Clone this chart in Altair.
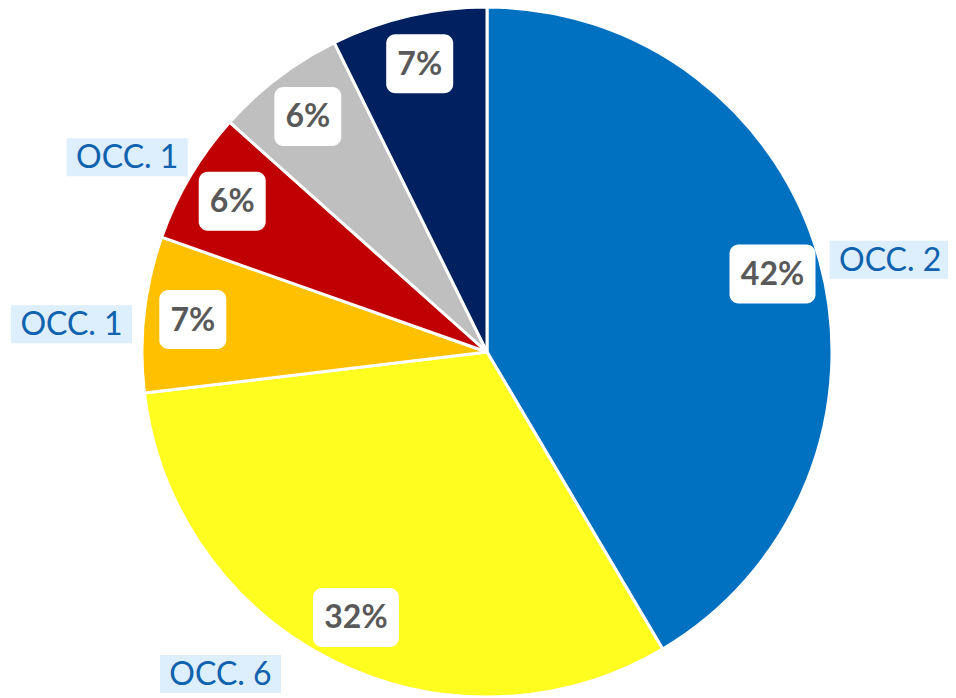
import altair as alt
import pandas as pd

categories = ["OCC. 2", "OCC. 6", "OCC. 1", "OCC. 1", "", ""]
values = [41.5, 31.6, 7.3, 6.2, 6.1, 7.3]
pct_labels = ["42%", "32%", "7%", "6%", "6%", "7%"]
colors = ["#0070C0", "#FFFC1F", "#FFC000", "#C00000", "#BFBFBF", "#002060"]

df = pd.DataFrame({
    "idx": list(range(len(values))),
    "cat": categories,
    "value": values,
    "pct": pct_labels,
    "color": colors,
})

W, H = 940, 690
R = 345
xs = alt.Scale(domain=[-479, 461])
ys = alt.Scale(domain=[-346, 344])

base = alt.Chart(df).transform_window(
    cum="sum(value)", sort=[alt.SortField("idx")], frame=[None, 0]
).transform_joinaggregate(
    total="sum(value)"
).transform_calculate(
    ang="(datum.cum - datum.value/2) / datum.total * 2 * PI"
)

pie = alt.Chart(df).mark_arc(outerRadius=R, stroke="white", strokeWidth=3).encode(
    theta=alt.Theta("value:Q", stack=True),
    order=alt.Order("idx:Q"),
    color=alt.Color("color:N", scale=None),
    x=alt.datum(0, type="quantitative", scale=xs, axis=None),
    y=alt.datum(0, type="quantitative", scale=ys, axis=None),
)

lab = base.transform_calculate(
    lx="sin(datum.ang) * 296",
    ly="cos(datum.ang) * 296",
    w="22 + 19 * (length(datum.pct) - 1) + 26",
).transform_calculate(
    x1="datum.lx - datum.w/2",
    x2="datum.lx + datum.w/2",
    y1="datum.ly - 29.5",
    y2="datum.ly + 29.5",
)

boxes = lab.mark_rect(color="white", cornerRadius=9).encode(
    x=alt.X("x1:Q", scale=xs, axis=None),
    x2="x2:Q",
    y=alt.Y("y1:Q", scale=ys, axis=None),
    y2="y2:Q",
)

pcts = lab.mark_text(font="Lato", fontWeight="bold", fontSize=32, color="#595959",
                     align="center", baseline="middle", dy=1).encode(
    x=alt.X("lx:Q", scale=xs, axis=None),
    y=alt.Y("ly:Q", scale=ys, axis=None),
    text="pct:N",
)

ext = base.transform_filter("datum.cat != ''").transform_calculate(
    ey0="max(cos(datum.ang) * 418, -322)",
).transform_calculate(
    ex="(sin(datum.ang) < 0 ? -1 : 1) * sqrt(418*418 - datum.ey0*datum.ey0)",
    ey="max(datum.ey0 - 18, -322)",
).transform_calculate(
    bx1="datum.ex - 60.5", bx2="datum.ex + 60.5",
    by1="datum.ey - 19", by2="datum.ey + 19",
)

ext_boxes = ext.mark_rect(color="#DDEEFC").encode(
    x=alt.X("bx1:Q", scale=xs, axis=None),
    x2="bx2:Q",
    y=alt.Y("by1:Q", scale=ys, axis=None),
    y2="by2:Q",
)

ext_text = ext.mark_text(font="Lato", fontSize=32, color="#0F62AE",
                         align="center", baseline="middle", dy=1).encode(
    x=alt.X("ex:Q", scale=xs, axis=None),
    y=alt.Y("ey:Q", scale=ys, axis=None),
    text="cat:N",
)

chart = alt.layer(pie, boxes, pcts, ext_boxes, ext_text).properties(
    width=W, height=H, padding=0, autosize="none"
).configure_view(stroke=None)

chart.save("out.html", embed_options={"renderer": "svg", "actions": False})
